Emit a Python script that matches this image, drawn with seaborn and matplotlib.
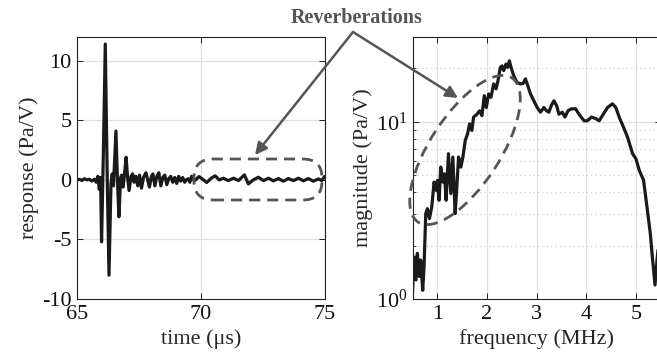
import numpy as np
import pandas as pd
import matplotlib
matplotlib.use("Agg")
import matplotlib.pyplot as plt
import seaborn as sns
from matplotlib.patches import Ellipse, FancyBboxPatch, FancyArrowPatch
from matplotlib.ticker import LogLocator, NullFormatter, FixedLocator

# ---------------- data ----------------
time_us = [65.00, 65.10, 65.20, 65.30, 65.40, 65.50, 65.60, 65.70, 65.78, 65.84,
           65.90, 65.95, 65.99, 66.07, 66.14, 66.22, 66.29, 66.37, 66.42, 66.47,
           66.57, 66.63, 66.69, 66.76, 66.80, 66.86, 66.93, 66.98, 67.04, 67.10,
           67.18, 67.24, 67.30, 67.37, 67.45, 67.52, 67.60, 67.68, 67.78, 67.85,
           67.92, 68.00, 68.06, 68.14, 68.22, 68.30, 68.38, 68.46, 68.54, 68.62,
           68.70, 68.78, 68.86, 68.94, 69.02, 69.10, 69.18, 69.26, 69.34, 69.40,
           69.48, 69.55, 69.62, 69.70, 69.76, 69.92, 70.10, 70.23, 70.41, 70.57,
           70.73, 70.90, 71.10, 71.31, 71.51, 71.75, 71.91, 72.11, 72.31, 72.52,
           72.72, 72.92, 73.12, 73.32, 73.52, 73.72, 73.93, 74.13, 74.33, 74.53,
           74.73, 74.87, 74.98]
response = [0.0, 0.05, -0.05, 0.1, 0.0, 0.05, -0.1, 0.05, -0.2, 0.3,
            -0.8, 0.2, -5.2, 3.0, 11.4, 0.0, -8.0, -0.3, 0.5, -0.5,
            4.1, 0.0, -3.1, 0.2, 0.4, -0.6, 0.8, 1.9, 0.2, -0.9,
            0.3, 0.5, -0.2, 0.3, -0.5, 0.4, -0.7, 0.2, 0.6, 0.0,
            -0.6, 0.3, 0.5, -0.5, 0.3, 0.6, -0.5, 0.2, 0.4, -0.4,
            0.1, 0.3, -0.2, 0.2, -0.3, 0.3, -0.1, 0.2, -0.2, 0.0,
            0.1, -0.2, 0.3, 0.0, -0.05, 0.28, 0.0, -0.22, 0.14, 0.34,
            0.0, 0.14, -0.06, 0.14, -0.06, 0.42, -0.34, 0.0, 0.22, -0.06,
            0.14, -0.08, 0.11, -0.11, 0.11, -0.06, 0.14, -0.08, 0.11, -0.11,
            0.08, -0.06, 0.28]

freq_mhz = [0.495, 0.528, 0.569, 0.596, 0.636, 0.663, 0.704, 0.731, 0.765, 0.798,
            0.839, 0.886, 0.933, 0.974, 1.001, 1.034, 1.068, 1.109, 1.142, 1.176,
            1.223, 1.271, 1.311, 1.358, 1.392, 1.426, 1.473, 1.514, 1.561, 1.608,
            1.649, 1.696, 1.729, 1.763, 1.797, 1.851, 1.898, 1.945, 1.986, 2.033,
            2.080, 2.134, 2.182, 2.222, 2.269, 2.303, 2.337, 2.384, 2.418, 2.451,
            2.485, 2.539, 2.607, 2.674, 2.728, 2.775, 2.823, 2.877, 2.944, 3.012,
            3.079, 3.146, 3.200, 3.248, 3.295, 3.349, 3.403, 3.450, 3.518, 3.572,
            3.632, 3.700, 3.788, 3.855, 3.956, 4.024, 4.105, 4.192, 4.260, 4.327,
            4.429, 4.530, 4.597, 4.665, 4.752, 4.833, 4.935, 5.002, 5.070, 5.157,
            5.225, 5.292, 5.339, 5.387, 5.427, 5.454]
magnitude = [1.03, 1.73, 1.28, 1.81, 1.34, 1.66, 1.12, 1.52, 3.03, 3.23,
             2.84, 3.30, 4.56, 4.10, 4.66, 3.60, 5.54, 4.56, 5.08, 3.60,
             6.59, 3.93, 6.31, 3.03, 4.28, 6.31, 5.54, 6.31, 7.82, 8.53,
             9.71, 8.91, 10.6, 10.8, 11.0, 11.5, 10.8, 14.0, 12.0, 14.3,
             13.7, 16.3, 15.3, 17.0, 20.2, 20.6, 19.4, 21.1, 20.2, 22.0,
             20.2, 18.1, 16.6, 16.3, 16.4, 17.4, 15.9, 14.3, 13.1, 12.0,
             11.3, 12.0, 11.5, 11.3, 12.3, 13.1, 12.3, 11.0, 11.3, 10.6,
             11.5, 11.8, 11.8, 11.0, 10.1, 10.1, 10.6, 10.4, 10.1, 10.8,
             12.0, 12.6, 12.0, 10.6, 9.29, 8.17, 6.59, 6.17, 5.31, 4.66,
             3.30, 2.34, 1.66, 1.20, 1.66, 1.97]

time_ticks = [65, 70, 75]
resp_ticks = [-10, -5, 0, 5, 10]
freq_ticks = [1, 2, 3, 4, 5]

df_t = pd.DataFrame({"t": time_us, "r": response})
df_f = pd.DataFrame({"f": freq_mhz, "m": magnitude})

# ---------------- style ----------------
sns.set_style("ticks")
plt.rcParams["font.family"] = ["Liberation Serif", "DejaVu Serif"]
plt.rcParams["mathtext.fontset"] = "stix"
plt.rcParams["axes.unicode_minus"] = False

LINE = "#1a1a1a"
ANN = "#555555"
GRID = "#e0e0e0"

fig = plt.figure(figsize=(6.57, 3.62), dpi=100)
ax1 = fig.add_axes([0.1172, 0.174, 0.3775, 0.724])
ax2 = fig.add_axes([0.628, 0.174, 0.3775, 0.724])

sns.lineplot(data=df_t, x="t", y="r", ax=ax1, color=LINE, lw=2.3, sort=False)
sns.lineplot(data=df_f, x="f", y="m", ax=ax2, color=LINE, lw=2.3, sort=False)

for ax in (ax1, ax2):
    for s in ax.spines.values():
        s.set_visible(True)
        s.set_linewidth(0.8)
        s.set_color("#222222")
    ax.tick_params(direction="in", top=True, right=True, labelsize=16,
                   length=4, width=0.7, pad=4, colors="#222222", labelcolor="#111111")
    ax.set_axisbelow(True)

# left
ax1.set_xlim(65, 75)
ax1.set_ylim(-10, 12)
ax1.xaxis.set_major_locator(FixedLocator(time_ticks))
ax1.yaxis.set_major_locator(FixedLocator(resp_ticks))
ax1.grid(True, color=GRID, lw=0.9)
ax1.set_xlabel("time (μs)", fontsize=16, labelpad=4)
ax1.set_ylabel("response (Pa/V)", fontsize=16, labelpad=2)

# right
ax2.set_yscale("log")
ax2.set_xlim(0.5, 5.5)
ax2.set_ylim(1, 30)
ax2.xaxis.set_major_locator(FixedLocator(freq_ticks))
ax2.yaxis.set_major_locator(LogLocator(base=10, numticks=5))
ax2.yaxis.set_minor_locator(LogLocator(base=10, subs=np.arange(2, 10), numticks=10))
ax2.yaxis.set_minor_formatter(NullFormatter())
ax2.tick_params(axis="y", which="minor", direction="in", length=2.5, width=0.6, right=True)
ax2.grid(True, which="major", color=GRID, lw=0.9)
ax2.grid(True, which="minor", axis="y", color="#c8c8c8", lw=0.8, ls=(0, (1, 3)))
ax2.set_xlabel("frequency (MHz)", fontsize=16, labelpad=4)
ax2.set_ylabel("magnitude (Pa/V)", fontsize=16, labelpad=2)

# ---------------- annotations (figure inches) ----------------
box = FancyBboxPatch((1.94, 1.62), 1.28, 0.41,
                     boxstyle="round,pad=0,rounding_size=0.19",
                     transform=fig.dpi_scale_trans, fill=False,
                     edgecolor=ANN, lw=2.0, ls=(0, (4, 2.5)))
fig.add_artist(box)

ell = Ellipse((4.65, 2.12), 1.72, 0.70, angle=57,
              transform=fig.dpi_scale_trans, fill=False,
              edgecolor=ANN, lw=2.0, ls=(0, (4, 2.5)))
fig.add_artist(ell)

fig.text(3.565 / 6.57, 3.44 / 3.62, "Reverberations", ha="center", va="center",
         fontsize=14.5, fontweight="bold", color=ANN)

for tip in [(2.55, 2.07), (4.58, 2.64)]:
    fig.add_artist(FancyArrowPatch(
        (3.53, 3.30), tip, transform=fig.dpi_scale_trans,
        arrowstyle="-|>", mutation_scale=18, color=ANN, lw=1.8,
        shrinkA=0, shrinkB=0))

fig.savefig("out.png", dpi=100)
